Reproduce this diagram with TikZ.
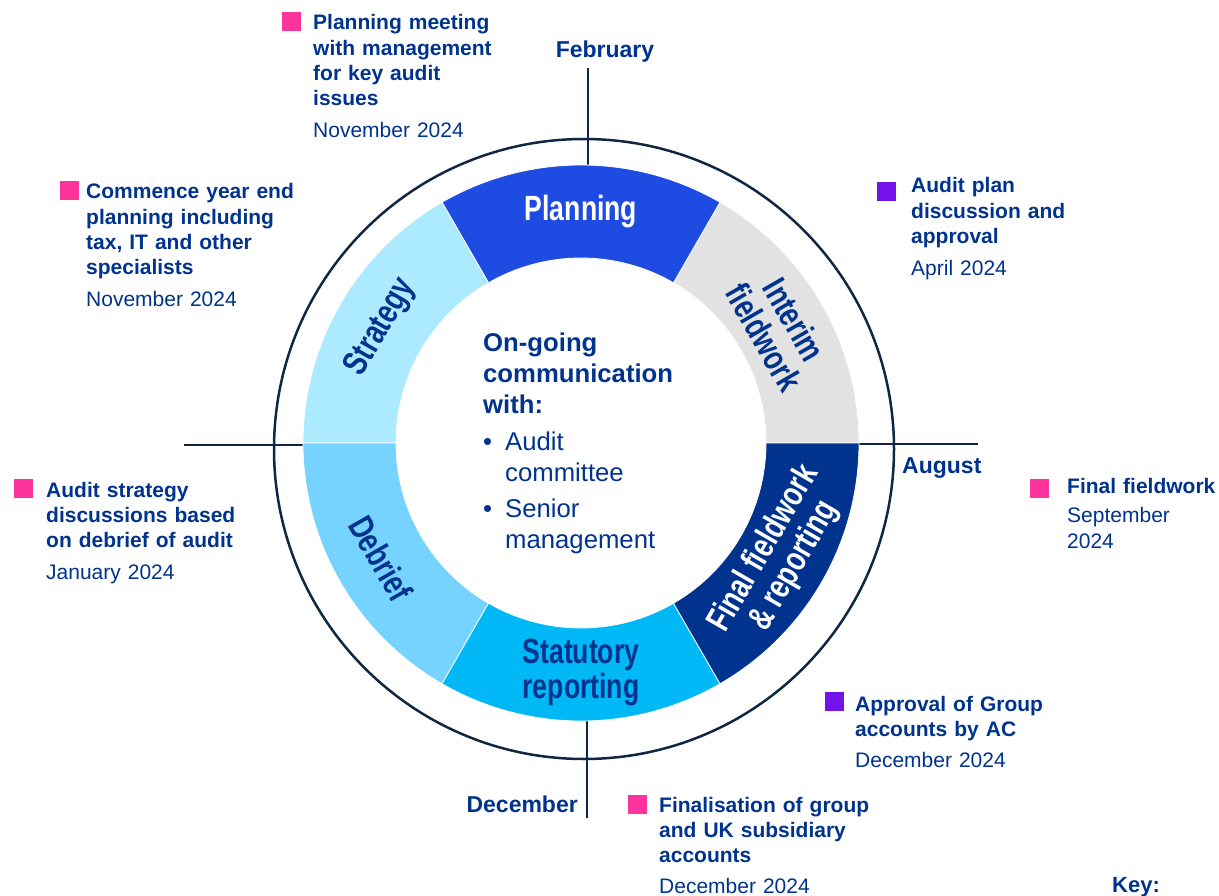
\documentclass[tikz,border=0pt]{standalone}
\usepackage{fontspec}
\setmainfont{Liberation Sans}
\usepackage{tikz}
\definecolor{navy}{HTML}{00338D}
\definecolor{planblue}{HTML}{1E4BE1}
\definecolor{stratblue}{HTML}{ACEAFF}
\definecolor{debriefblue}{HTML}{76D2FF}
\definecolor{statblue}{HTML}{00B8F5}
\definecolor{interimgray}{HTML}{E2E2E2}
\definecolor{keypink}{HTML}{FD349C}
\definecolor{keypurple}{HTML}{7213EA}
\definecolor{rule}{HTML}{0F2741}
\newcommand{\narrowtxt}[1]{\scalebox{0.76}[1]{#1}}

\begin{document}
\begin{tikzpicture}[x=1pt,y=-1pt,
		evt/.style={anchor=base west,inner sep=0,text=navy,align=left,text width=#1,
			font=\fontsize{21}{25.3}\selectfont\bfseries},
		sq/.style={fill=#1,minimum size=19pt,inner sep=0,anchor=north west},
		month/.style={inner sep=0,text=navy,font=\fontsize{23}{27}\selectfont\bfseries},
		seg/.style={draw=white,line width=0.8pt},
		seglbl/.style={inner sep=0,align=center,font=\bfseries\fontsize{35}{35}\selectfont},
		ln/.style={draw=rule,line width=2.5pt}]
	\useasboundingbox (0,0) rectangle (1219,896);
	\coordinate (rc) at (581,443);
	\coordinate (cc) at (584,449);
	\coordinate (ftop) at (588,68);
	\coordinate (fbot) at (588,166);
	\coordinate (dtop) at (587,720);
	\coordinate (dbot) at (587,818);
	\coordinate (wl) at (184,445);
	\coordinate (wr) at (304,445);
	\coordinate (el) at (858,444);
	\coordinate (er) at (978,444);
	\draw[ln] (ftop) -- (fbot);
	\draw[ln] (dtop) -- (dbot);
	\draw[ln] (wl) -- (wr);
	\draw[ln] (el) -- (er);
	\draw[ln] (cc) circle[radius=310];
	\begin{scope}[shift={(rc)},y=1pt]
		\fill[interimgray,seg] (0:278) arc[start angle=0,end angle=60,radius=278] -- (60:185) arc[start angle=60,end angle=0,radius=185] -- cycle;
		\fill[planblue,seg] (60:278) arc[start angle=60,end angle=120,radius=278] -- (120:185) arc[start angle=120,end angle=60,radius=185] -- cycle;
		\fill[stratblue,seg] (120:278) arc[start angle=120,end angle=180,radius=278] -- (180:185) arc[start angle=180,end angle=120,radius=185] -- cycle;
		\fill[debriefblue,seg] (180:278) arc[start angle=180,end angle=240,radius=278] -- (240:185) arc[start angle=240,end angle=180,radius=185] -- cycle;
		\fill[statblue,seg] (240:278) arc[start angle=240,end angle=300,radius=278] -- (300:185) arc[start angle=300,end angle=240,radius=185] -- cycle;
		\fill[navy,seg] (300:278) arc[start angle=300,end angle=360,radius=278] -- (360:185) arc[start angle=360,end angle=300,radius=185] -- cycle;
		\node[seglbl,text=white] (planning) at (90:231) {\narrowtxt{Planning}};
		\node[seglbl,text=navy,rotate=-60] (interim) at (30:229) {\narrowtxt{Interim}\\\narrowtxt{fieldwork}};
		\node[seglbl,text=white,rotate=60] (final) at (-30:229) {\narrowtxt{Final fieldwork}\\\narrowtxt{\& reporting}};
		\node[seglbl,text=navy] (statutory) at (-90:229) {\narrowtxt{Statutory}\\\narrowtxt{reporting}};
		\node[seglbl,text=navy,rotate=-60] (debrief) at (210:231) {\narrowtxt{Debrief}};
		\node[seglbl,text=navy,rotate=60] (strategy) at (150:231) {\narrowtxt{Strategy}};
	\end{scope}
	\node[anchor=base west,inner sep=0,text=navy,align=left,text width=210pt,
		font=\fontsize{25.7}{31}\selectfont] (comm) at (483,352)
		{\textbf{On-going}\\\textbf{communication}\\\textbf{with:}\\[6pt]
		\makebox[22pt][l]{\textbullet}Audit\\\hspace*{22pt}committee\\[5pt]
		\makebox[22pt][l]{\textbullet}Senior\\\hspace*{22pt}management};
	\node[month,anchor=base] (feb) at (605,58) {February};
	\node[month,anchor=base west] (aug) at (902,473) {August};
	\node[month,anchor=base east] (dec) at (578,812) {December};
	\node[month,anchor=base west,font=\fontsize{22}{26}\selectfont\bfseries] (key) at (1112,892) {Key:};
	\node[sq=keypink] (s1) at (282,12) {};
	\node[evt=200pt] (e1) at (313,30) {Planning meeting\\with management\\for key audit\\issues\\[6pt]\mdseries November 2024};
	\node[sq=keypink] (s2) at (60,181) {};
	\node[evt=225pt] (e2) at (86,199) {Commence year end\\planning including\\tax, IT and other\\specialists\\[6pt]\mdseries November 2024};
	\node[sq=keypurple] (s3) at (877,182) {};
	\node[evt=175pt] (e3) at (911,193) {Audit plan\\discussion and\\approval\\[7pt]\mdseries April 2024};
	\node[sq=keypurple] (s6) at (825,692) {};
	\node[evt=205pt] (e6) at (855,711) {Approval of Group\\accounts by AC\\[6pt]\mdseries December 2024};
	\node[sq=keypink] (s4) at (1030,479) {};
	\node[evt=150pt] (e4) at (1067,493) {Final fieldwork\\[4.5pt]\mdseries September\\2024};
	\node[sq=keypink] (s5) at (14,479) {};
	\node[evt=210pt] (e5) at (46,497) {Audit strategy\\discussions based\\on debrief of audit\\[7pt]\mdseries January 2024};
	\node[sq=keypink] (s7) at (628,795) {};
	\node[evt=230pt] (e7) at (659,812) {Finalisation of group\\and UK subsidiary\\accounts\\[6pt]\mdseries December 2024};
\end{tikzpicture}
\end{document}
